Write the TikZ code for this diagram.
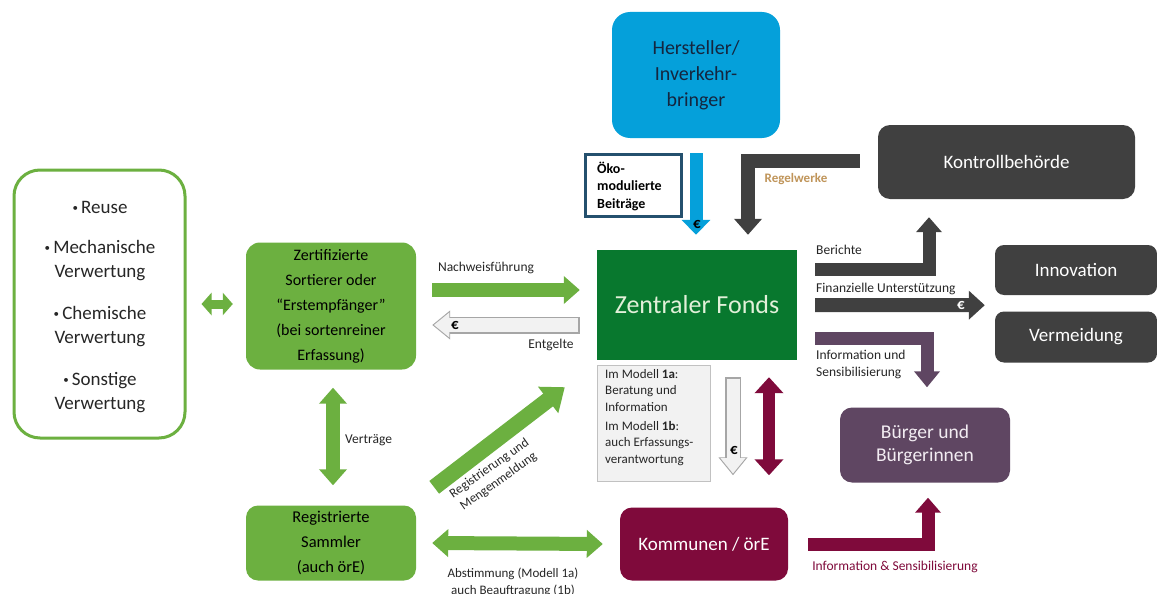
\documentclass[tikz,border=0pt]{standalone}
\usepackage{fontspec}
\setmainfont{Carlito}
\usetikzlibrary{arrows.meta,calc}
\definecolor{lgreen}{HTML}{6CB040}
\definecolor{dgreen}{HTML}{08782E}
\definecolor{hblue}{HTML}{05A0DA}
\definecolor{hnavy}{HTML}{14263F}
\definecolor{dgray}{HTML}{404040}
\definecolor{purp}{HTML}{5F4662}
\definecolor{dred}{HTML}{7F0A3B}
\definecolor{tanc}{HTML}{C0955A}
\definecolor{oekob}{HTML}{24506E}
\definecolor{lightfill}{HTML}{F2F2F2}
\definecolor{lightedge}{HTML}{A6A6A6}
\definecolor{fondstxt}{HTML}{E2F0D9}
\definecolor{buetxt}{HTML}{F2ECF2}
\definecolor{txt}{HTML}{262626}
\newcommand{\fs}[2]{\fontsize{#1}{#2}\selectfont}
\newcommand{\bul}{{\fs{11}{11}\raisebox{2pt}{•}}\,}
\begin{document}
\begin{tikzpicture}[x=1pt,y=-1pt,
  every node/.style={inner sep=0pt},
  rbox/.style={rounded corners=12pt, align=center},
  lbl/.style={font=\fs{13.5}{17}, text=txt},
  barrow/.style={line width=14pt, line join=miter, -{Triangle[width=27pt,length=16pt]}},
  bdarrow/.style={line width=14pt, {Triangle[width=27pt,length=16pt]}-{Triangle[width=27pt,length=16pt]}},
  outarrow/.style={draw=lightedge, line width=17pt, -{Triangle[width=28pt,length=18pt]}},
  inarrow/.style={draw=lightfill, line width=14pt, shorten <=1.5pt, shorten >=1.7pt, -{Triangle[width=24pt,length=15.5pt]}},
]
\useasboundingbox (0,0) rectangle (1157,594);
\fill[white] (0,0) rectangle (1157,594);

% ---------- boxes ----------
\node[draw=lgreen, line width=3pt, rounded corners=26pt, minimum width=171pt, minimum height=268pt] (lbox) at (99.5,304) {};
\node[align=center, font=\fs{19}{24}, text=txt] (ltext) at (100,307)
  {\bul Reuse\\[16pt] \bul Mechanische\\ Verwertung\\[18pt] \bul Chemische\\ Verwertung\\[18pt] \bul Sonstige\\ Verwertung};

\node[rbox, fill=lgreen, rounded corners=14pt, minimum width=170pt, minimum height=127pt, font=\fs{16}{25}, text=black] (zert) at (331,306)
  {Zertifizierte\\ Sortierer oder\\ “Erstempfänger”\\ (bei sortenreiner\\ Erfassung)};

\node[rbox, fill=lgreen, minimum width=170pt, minimum height=75pt, font=\fs{16.5}{25}, text=black] (samm) at (331,543)
  {Registrierte\\ Sammler\\ (auch örE)};

\node[rbox, fill=hblue, rounded corners=18pt, minimum width=168pt, minimum height=126pt, font=\fs{20}{26}, text=hnavy] (herst) at (696,75)
  {Hersteller/\\ Inverkehr-\\ bringer};

\node[draw=oekob, line width=3pt, fill=white, minimum width=96pt, minimum height=62pt] (oeko) at (633.5,185.5) {};
\node[anchor=west, align=left, font=\bfseries\fs{14}{17.5}, text=black] (oekotxt) at (597,186)
  {Öko-\\ modulierte\\ Beiträge};

\node[rbox, fill=dgray, minimum width=257pt, minimum height=74pt, font=\fs{19}{23}, text=white] (kontroll) at (1006.5,162) {Kontrollbehörde};

\node[fill=dgreen, minimum width=200pt, minimum height=110pt, font=\fs{26}{30}, text=fondstxt] (fonds) at (697,305) {Zentraler Fonds};

\node[fill=lightfill, draw=lightedge!70, line width=0.8pt, minimum width=113pt, minimum height=116pt] (modell) at (653.5,423) {};
\node[anchor=north west, align=left, font=\fs{13}{16.5}, text=txt] (modelltxt) at (605,369)
  {Im Modell \textbf{1a}:\\ Beratung und\\ Information\\[2.5pt] Im Modell \textbf{1b}:\\ auch Erfassungs-\\ verantwortung};

\node[rbox, fill=dgray, rounded corners=9pt, minimum width=162pt, minimum height=50pt, font=\fs{19}{23}, text=white] (innov) at (1076,270) {Innovation};
\node[rbox, fill=dgray, rounded corners=9pt, minimum width=162pt, minimum height=51pt, font=\fs{19}{23}, text=white] (verm) at (1076,337) {Vermeidung};

\node[rbox, fill=purp, minimum width=170pt, minimum height=75pt, font=\fs{19.5}{23.5}, text=buetxt] (buerger) at (925,445)
  {Bürger und\\ Bürgerinnen};

\node[rbox, fill=dred, minimum width=168pt, minimum height=73pt, font=\fs{19}{23}, text=white] (komm) at (704,544) {Kommunen / örE};

% ---------- arrows ----------
% left small double arrow
\draw[draw=lgreen, line width=9pt, {Triangle[width=22pt,length=10pt]}-{Triangle[width=22pt,length=10pt]}]
  ($(lbox.east)+(15,0)$) -- ($(zert.west |- lbox.east)+(-13,0)$);

% Vertraege
\draw[lgreen, bdarrow] ($(zert.south)+(2,18)$) -- ($(samm.north)+(2,-20)$);
\node[lbl, anchor=west] (vertr) at (345,440) {Verträge};

% Nachweisfuehrung
\draw[lgreen, barrow] ($(zert.east)+(16,-16)$) -- ($(fonds.west)+(-17,-15)$);
\node[lbl] (nachw) at (486,268) {Nachweisführung};

% Entgelte (outlined, leftwards)
\draw[outarrow] ($(fonds.west)+(-17,20)$) -- ($(zert.east)+(16,19)$);
\draw[inarrow] ($(fonds.west)+(-17,20)$) -- ($(zert.east)+(16,19)$);
\node[font=\bfseries\fs{15}{15}, text=black] (euro1) at (455,325) {€};
\node[lbl] (entg) at (551,345) {Entgelte};

% Registrierung diagonal
\draw[lgreen, line width=16pt, -{Triangle[width=32pt,length=21pt]}] ($(samm.north east)+(18,-18)$) -- ($(fonds.south west)+(-32,27)$);
\node[align=center, font=\fs{13}{16}, text=txt, rotate=35] (regtxt) at (494,475) {Registrierung und\\ Mengenmeldung};

% Abstimmung
\draw[lgreen, bdarrow] ($(samm.east)+(16,0)$) -- ($(komm.west)+(-17,0)$);
\node[align=center, font=\fs{13}{16.5}, text=txt, anchor=north] (abst) at (513,568) {Abstimmung (Modell 1a)\\ auch Beauftragung (1b)};

% Blue contribution arrow
\draw[hblue, line width=13pt, -{Triangle[width=28pt,length=15pt]}] ($(herst.south)+(0,15)$) -- ($(fonds.north)+(-1,-15)$);
\node[font=\bfseries\fs{15}{15}, text=black] (euro2) at (697,224) {€};

% Regelwerke L arrow
\draw[dgray, barrow] ($(kontroll.west)+(-18,-1)$) -| ($(fonds.north)+(51,-15)$);
\node[font=\bfseries\fs{13}{13}, text=tanc] (regel) at (796,179) {Regelwerke};

% Berichte L arrow
\draw[dgray, line width=13pt, line join=miter, -{Triangle[width=25pt,length=15pt]}] ($(fonds.east)+(18,-36)$) -| ($(kontroll.south)+(-77.5,18)$);
\node[lbl, anchor=west] (ber) at (816,250) {Berichte};

% Finanzielle Unterstuetzung
\draw[dgray, line width=14pt, -{Triangle[width=28pt,length=16pt]}] ($(fonds.east)+(18,0)$) -- ($(innov.south west)+(-10,10)$);
\node[lbl, anchor=west] (fin) at (816,289) {Finanzielle Unterstützung};
\node[font=\bfseries\fs{15}{15}, text=white] (euro3) at (961,305) {€};

% Information und Sensibilisierung (purple)
\draw[purp, line width=13pt, line join=miter, -{Triangle[width=25pt,length=16pt]}] ($(fonds.east)+(18,33)$) -| ($(buerger.north)+(2,-20)$);
\node[lbl, anchor=north west, align=left] (infsens) at (816,350) {Information und\\ Sensibilisierung};

% Euro down arrow (outlined)
\draw[outarrow, line width=16pt] ($(fonds.south)+(36,17)$) -- ($(komm.north)+(29,-32)$);
\draw[inarrow, line width=13pt] ($(fonds.south)+(36,17)$) -- ($(komm.north)+(29,-32)$);
\node[font=\bfseries\fs{15}{15}, text=black] (euro4) at (734,450) {€};

% dark red double arrow
\draw[dred, line width=12pt, {Triangle[width=28pt,length=16pt]}-{Triangle[width=28pt,length=16pt]}] ($(fonds.south)+(72,17)$) -- ($(komm.north)+(65,-32)$);

% Kommunen -> Buerger
\draw[dred, line width=13pt, line join=miter, -{Triangle[width=25pt,length=15pt]}] ($(komm.east)+(20,0)$) -| ($(buerger.south)+(3,15)$);
\node[font=\fs{13.5}{17}, text=dred] (infsens2) at (895,567) {Information \& Sensibilisierung};
\end{tikzpicture}
\end{document}
